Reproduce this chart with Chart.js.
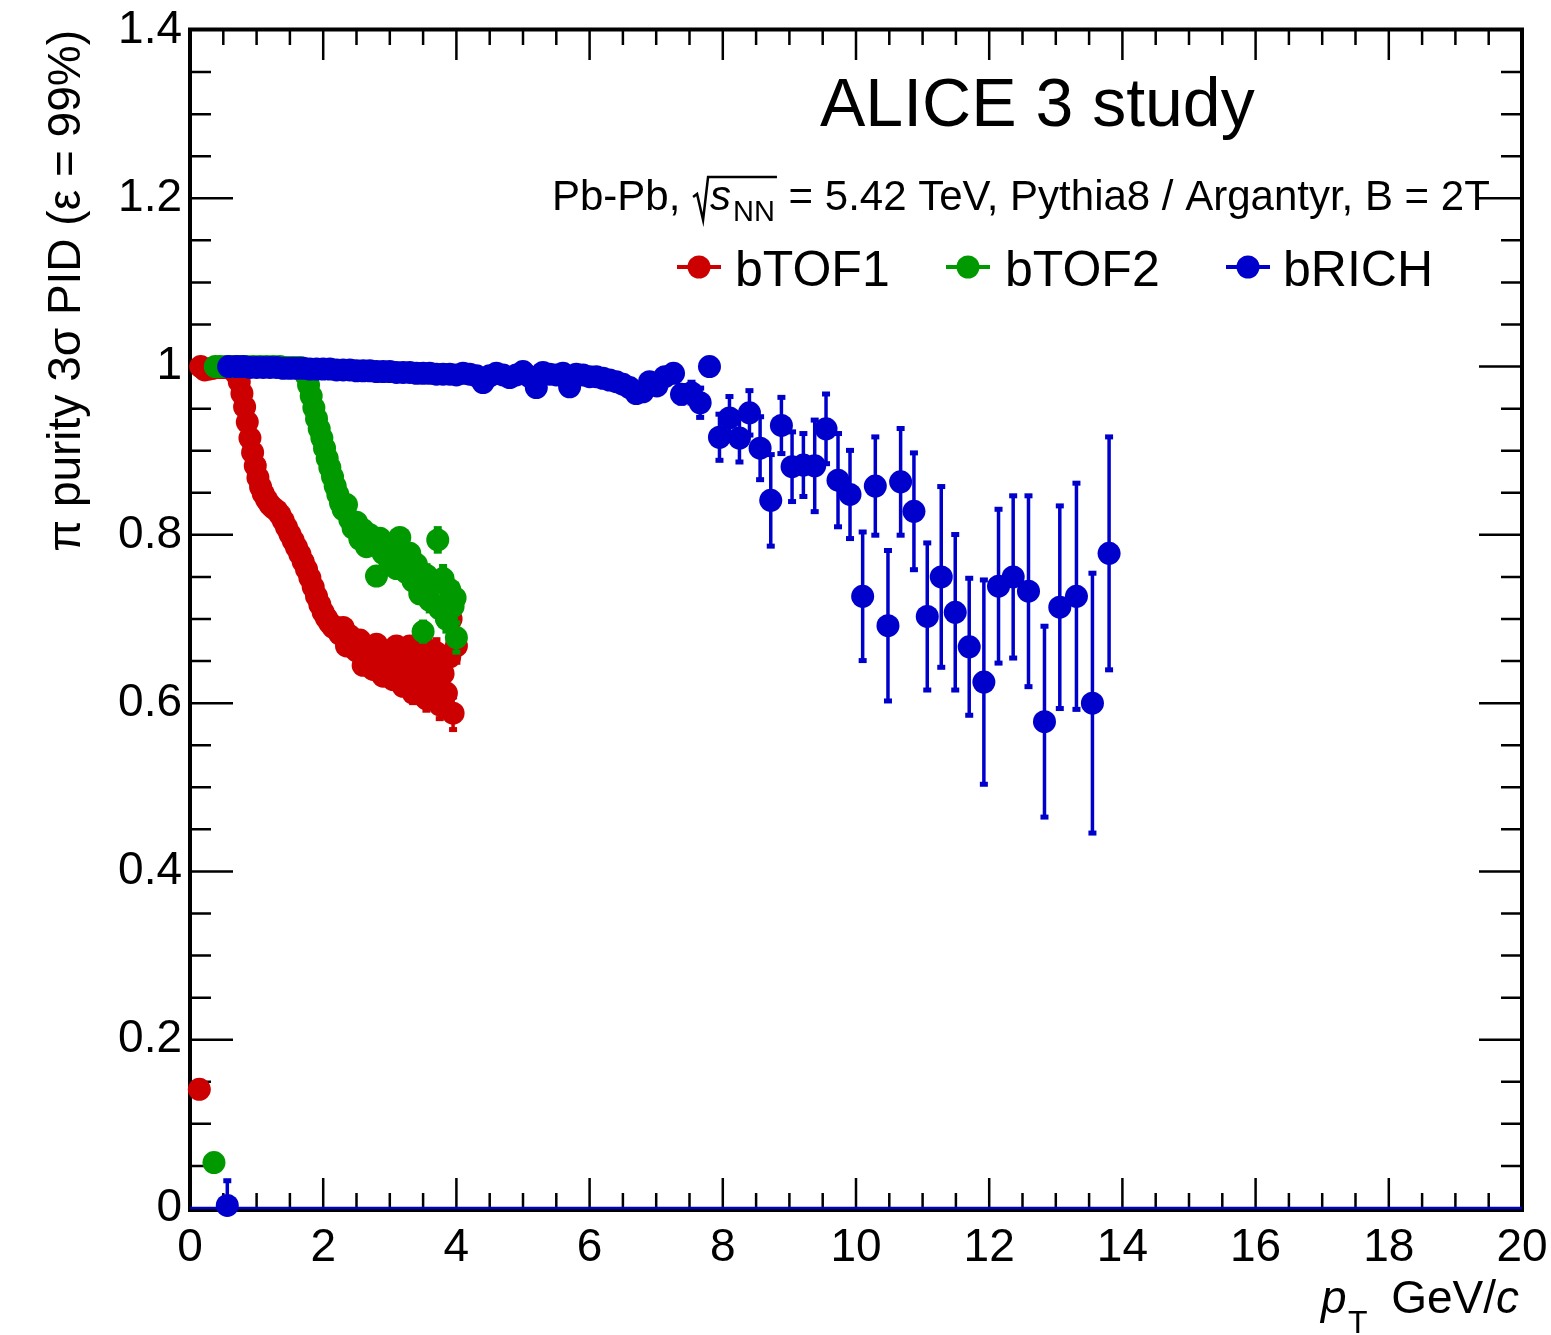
<!DOCTYPE html>
<html><head><meta charset="utf-8">
<script src="https://cdn.jsdelivr.net/npm/chart.js@4.4.1/dist/chart.umd.min.js"></script>
<style>html,body{margin:0;padding:0;background:#fff;}canvas{display:block;}</style>
</head><body>
<canvas id="c" width="1551" height="1335" style="width:1551px;height:1335px"></canvas>
<script>
// ---------------- data ----------------
const seriesNames = ['bTOF1', 'bTOF2', 'bRICH'];
const seriesColors = ['#cc0000', '#009900', '#0000cc'];

const redX = [0.14,0.16,0.22,0.28,0.34,0.40,0.45,0.50,0.55,0.60,0.65,0.70,0.74,0.78,0.82,0.86,0.90,0.94,0.98,1.02,
  1.06,1.10,1.15,1.20,1.25,1.30,1.35,1.40,1.45,1.50,1.55,1.60,1.65,1.70,1.75,1.80,1.85,1.90,1.95,2.00,
  2.05,2.10,2.15,2.20,2.25,2.30,2.35,2.40,2.45,2.50,2.55,2.60,2.65,2.70,2.75,2.80,2.85,2.90,2.95,3.00,
  3.05,3.10,3.15,3.20,3.25,3.30,3.35,3.40,3.45,3.50,3.55,3.60,3.65,3.70,3.75,3.80,3.85,3.90,3.92,3.95,4.00];
const redY = [0.141,1.000,0.996,0.997,0.998,0.999,0.999,0.999,0.999,0.998,0.996,0.991,0.982,0.968,0.952,0.934,0.915,0.898,0.882,0.868,
  0.857,0.849,0.842,0.836,0.832,0.829,0.824,0.817,0.809,0.801,0.793,0.785,0.777,0.768,0.759,0.749,0.738,0.727,0.717,0.708,
  0.701,0.695,0.690,0.690,0.682,0.690,0.668,0.680,0.672,0.662,0.675,0.645,0.668,0.655,0.640,0.670,0.650,0.632,0.662,0.645,
  0.628,0.668,0.650,0.620,0.640,0.668,0.612,0.650,0.632,0.668,0.605,0.640,0.622,0.660,0.598,0.635,0.612,0.655,0.700,0.588,0.668];
const redErr = [0,0,0,0,0,0,0,0,0,0,0,0,0,0,0,0,0,0,0,0,
  0,0,0,0,0,0,0,0,0,0,0,0,0,0,0,0,0,0,0,0,
  0,0,0,0,0,0,0,0,0,0,0,0,0,0,0,0,0,0,0,0,
  0,0,0,0,0,0,0.012,0.012,0.013,0.013,0.014,0.015,0.016,0.016,0.017,0.018,0.018,0.019,0.019,0.020,0.020];

const greenX = [0.36,0.38,0.45,0.55,0.65,0.75,0.85,0.95,1.05,1.15,1.25,1.35,1.45,1.55,1.65,1.70,1.74,1.78,1.82,1.86,
  1.90,1.94,1.98,2.02,2.06,2.10,2.14,2.18,2.22,2.26,2.30,2.35,2.40,2.45,2.50,2.55,2.60,2.65,2.70,2.75,
  2.80,2.85,2.90,2.95,3.00,3.05,3.10,3.15,3.20,3.25,3.30,3.35,3.40,3.45,3.50,3.55,3.60,3.65,3.72,3.75,
  3.80,3.85,3.90,3.95,3.98,4.00];
const greenY = [0.054,1.000,1.000,1.000,1.000,1.000,1.000,1.000,1.000,1.000,1.000,1.000,0.999,0.999,0.999,0.997,0.990,0.978,0.965,0.951,
  0.938,0.926,0.915,0.903,0.891,0.880,0.869,0.858,0.848,0.838,0.830,0.836,0.818,0.808,0.815,0.795,0.806,0.786,0.800,0.790,
  0.751,0.796,0.778,0.788,0.768,0.785,0.760,0.797,0.775,0.755,0.778,0.745,0.765,0.730,0.685,0.752,0.722,0.742,0.794,0.712,
  0.748,0.700,0.735,0.715,0.725,0.678];
const greenErr = [0,0,0,0,0,0,0,0,0,0,0,0,0,0,0,0,0,0,0,0,
  0,0,0,0,0,0,0,0,0,0,0,0,0,0,0,0,0,0,0,0,
  0,0,0,0,0,0,0,0,0,0,0,0.010,0.010,0.011,0.012,0.012,0.013,0.013,0.014,0.014,
  0.015,0.015,0.016,0.017,0.017,0.018];

const blueX = [0.56,0.58,0.70,0.80,0.90,1.00,1.10,1.20,1.30,1.40,1.50,1.60,1.70,1.80,1.90,2.00,2.10,2.20,2.30,2.40,
  2.50,2.60,2.70,2.80,2.90,3.00,3.10,3.20,3.30,3.40,3.50,3.60,3.70,3.80,3.90,4.00,4.10,4.20,4.30,4.40,
  4.50,4.60,4.70,4.80,4.90,5.00,5.10,5.20,5.30,5.40,5.50,5.60,5.70,5.80,5.90,6.00,6.10,6.20,6.30,6.40,
  6.50,6.60,6.70,6.80,6.90,7.01,7.13,7.26,7.38,7.53,7.66,7.80,7.95,8.10,8.25,8.40,8.56,8.72,8.88,9.04,
  9.21,9.38,9.55,9.73,9.91,10.10,10.29,10.48,10.67,10.87,11.07,11.28,11.49,11.70,11.92,12.14,12.36,12.59,12.83,13.06,
  13.31,13.55,13.80];
const blueY = [0.003,1.000,1.000,1.000,0.999,0.999,0.999,0.999,0.999,0.998,0.998,0.998,0.998,0.997,0.997,0.997,0.997,0.996,0.996,0.996,
  0.995,0.995,0.995,0.994,0.994,0.994,0.993,0.993,0.993,0.992,0.992,0.992,0.991,0.991,0.991,0.990,0.992,0.991,0.989,0.981,
  0.989,0.992,0.990,0.987,0.990,0.994,0.988,0.975,0.993,0.991,0.990,0.992,0.976,0.991,0.990,0.988,0.988,0.986,0.984,0.982,
  0.979,0.975,0.968,0.970,0.982,0.977,0.988,0.992,0.967,0.969,0.957,1.000,0.916,0.939,0.915,0.945,0.903,0.841,0.930,0.881,
  0.883,0.882,0.926,0.865,0.848,0.727,0.858,0.692,0.863,0.828,0.703,0.750,0.708,0.667,0.625,0.739,0.750,0.733,0.578,0.714,
  0.727,0.600,0.778];
const blueErr = [0.030,0,0,0,0,0,0,0,0,0,0,0,0,0,0,0,0,0,0,0,
  0,0,0,0,0,0,0,0,0,0,0,0,0,0,0,0,0,0,0,0,
  0,0,0,0,0,0,0,0,0,0,0,0,0,0,0,0,0,0,0,0,
  0,0,0,0,0,0,0,0,0.011,0.013,0.018,0,0.028,0.026,0.029,0.027,0.038,0.055,0.034,0.042,
  0.038,0.055,0.042,0.056,0.053,0.077,0.059,0.090,0.064,0.070,0.088,0.108,0.093,0.082,0.122,0.092,0.097,0.114,0.114,0.121,
  0.135,0.155,0.139];

const zeroLineX = [0, 20];
const zeroLineY = [0, 0];

const xMin = 0, xMax = 20, xMajorStep = 2, xMinorStep = 0.5;
const yMin = 0, yMax = 1.4, yMajorStep = 0.2, yMinorStep = 0.05;

const titleText = 'ALICE 3 study';
const yTitle = 'π purity 3σ PID (ε = 99%)';

// ---------------- rendering ----------------
const FONT = "'Liberation Sans', Arial, Helvetica, sans-serif";
const pts = (xs, ys) => xs.map((x, i) => ({x: x, y: ys[i]}));

const axesPlugin = {
  id: 'axesFrame',
  beforeDatasetsDraw(chart) {
    const {ctx, chartArea: a, scales: {x: xs, y: ys}} = chart;
    ctx.save();
    ctx.strokeStyle = '#000';
    ctx.lineWidth = 2.5;
    ctx.beginPath();
    const nx = Math.round((xMax - xMin) / xMinorStep);
    for (let i = 1; i < nx; i++) {
      const v = xMin + i * xMinorStep;
      const px = xs.getPixelForValue(v);
      const L = (i % Math.round(xMajorStep / xMinorStep) === 0) ? 30 : 15;
      ctx.moveTo(px, a.bottom); ctx.lineTo(px, a.bottom - L);
      ctx.moveTo(px, a.top); ctx.lineTo(px, a.top + L);
    }
    const ny = Math.round((yMax - yMin) / yMinorStep);
    for (let i = 1; i < ny; i++) {
      const v = yMin + i * yMinorStep;
      const py = ys.getPixelForValue(v);
      const L = (i % Math.round(yMajorStep / yMinorStep) === 0) ? 43 : 21;
      ctx.moveTo(a.left, py); ctx.lineTo(a.left + L, py);
      ctx.moveTo(a.right, py); ctx.lineTo(a.right - L, py);
    }
    ctx.stroke();
    ctx.lineWidth = 4;
    ctx.beginPath();
    ctx.moveTo(a.left, a.top - 0.5); ctx.lineTo(a.right, a.top - 0.5);
    ctx.lineTo(a.right, a.bottom + 2); ctx.lineTo(a.left, a.bottom + 2); ctx.closePath();
    ctx.stroke();
    ctx.restore();
  }
};

const errorBars = {
  id: 'errorBars',
  beforeDatasetDraw(chart, args) {
    const ds = chart.data.datasets[args.index];
    if (!ds.errors) return;
    const {ctx, chartArea: a, scales: {x: xs, y: ys}} = chart;
    ctx.save();
    ctx.beginPath(); ctx.rect(a.left, a.top, a.right - a.left, a.bottom - a.top); ctx.clip();
    ctx.strokeStyle = ds.backgroundColor; ctx.fillStyle = ds.backgroundColor; ctx.lineWidth = 3.5;
    ds.data.forEach((p, i) => {
      const e = ds.errors[i];
      if (!e) return;
      const px = xs.getPixelForValue(p.x);
      const y1 = ys.getPixelForValue(p.y + e), y2 = ys.getPixelForValue(p.y - e);
      ctx.beginPath(); ctx.moveTo(px, y1); ctx.lineTo(px, y2); ctx.stroke();
      ctx.fillRect(px - 4, y1 - 2, 8, 5);
      ctx.fillRect(px - 4, y2 - 3, 8, 5);
    });
    ctx.restore();
  }
};

const annotations = {
  id: 'annotations',
  afterDraw(chart) {
    const ctx = chart.ctx;
    ctx.save();
    ctx.fillStyle = '#000';
    ctx.textBaseline = 'alphabetic';
    // title
    ctx.font = '68px ' + FONT;
    ctx.textAlign = 'left';
    ctx.fillText(titleText, 820, 126);
    // collision line
    let x = 552; const by = 210;
    ctx.font = '42px ' + FONT;
    ctx.fillText('Pb-Pb, ', x, by); x += ctx.measureText('Pb-Pb, ').width;
    const r0 = x;
    ctx.font = 'italic 42px ' + FONT;
    const sW = ctx.measureText('s').width;
    ctx.fillText('s', r0 + 18, by);
    ctx.font = '29px ' + FONT;
    const nnW = ctx.measureText('NN').width;
    ctx.fillText('NN', r0 + 18 + sW + 2, by + 11);
    const rEnd = r0 + 18 + sW + 2 + nnW + 2;
    ctx.strokeStyle = '#000'; ctx.lineWidth = 2.5; ctx.lineJoin = 'miter';
    ctx.beginPath();
    ctx.moveTo(r0 + 1, by - 13); ctx.lineTo(r0 + 5, by - 16);
    ctx.lineTo(r0 + 11, by + 10); ctx.lineTo(r0 + 16, by - 33); ctx.lineTo(rEnd, by - 33);
    ctx.stroke();
    ctx.font = '42px ' + FONT;
    ctx.fillText(' = 5.42 TeV, Pythia8 / Argantyr, B = 2T', rEnd, by);
    // legend
    const legX = [699, 968, 1248];
    const legTextX = [735, 1005, 1283];
    const legY = 267;
    seriesNames.forEach((n, i) => {
      ctx.strokeStyle = seriesColors[i]; ctx.fillStyle = seriesColors[i];
      ctx.lineWidth = 4;
      ctx.beginPath(); ctx.moveTo(legX[i] - 22, legY); ctx.lineTo(legX[i] + 22, legY); ctx.stroke();
      ctx.beginPath(); ctx.arc(legX[i], legY, 11.5, 0, Math.PI * 2); ctx.fill();
      ctx.fillStyle = '#000';
      ctx.font = '50px ' + FONT;
      ctx.fillText(n, legTextX[i], 286);
    });
    // x title
    ctx.fillStyle = '#000';
    const xb = 1313;
    ctx.font = 'italic 46px ' + FONT; ctx.fillText('p', 1321, xb);
    ctx.font = '32px ' + FONT; ctx.fillText('T', 1348, xb + 20);
    ctx.textAlign = 'right';
    ctx.font = 'italic 46px ' + FONT;
    const cW = ctx.measureText('c').width;
    ctx.fillText('c', 1519, xb);
    ctx.font = '46px ' + FONT; ctx.fillText('GeV/', 1519 - cW, xb);
    // y title
    ctx.save();
    ctx.translate(80, 30);
    ctx.rotate(-Math.PI / 2);
    ctx.textAlign = 'right';
    ctx.font = '46px ' + FONT;
    ctx.fillText(yTitle, 0, 0);
    ctx.restore();
    ctx.restore();
  }
};

const fmt = v => { const r = Math.round(v * 10) / 10; return String(r); };

new Chart(document.getElementById('c').getContext('2d'), {
  type: 'scatter',
  data: {
    datasets: [
      {label: 'zero', type: 'line', data: pts(zeroLineX, zeroLineY), borderColor: seriesColors[2], borderWidth: 2.5,
       pointRadius: 0, order: 4, clip: false},
      {label: seriesNames[0], data: pts(redX, redY), errors: redErr, backgroundColor: seriesColors[0],
       pointRadius: 11.5, pointBorderWidth: 0, borderWidth: 0, order: 3, clip: false},
      {label: seriesNames[1], data: pts(greenX, greenY), errors: greenErr, backgroundColor: seriesColors[1],
       pointRadius: 11.5, pointBorderWidth: 0, borderWidth: 0, order: 2, clip: false},
      {label: seriesNames[2], data: pts(blueX, blueY), errors: blueErr, backgroundColor: seriesColors[2],
       pointRadius: 11.5, pointBorderWidth: 0, borderWidth: 0, order: 1, clip: false}
    ]
  },
  options: {
    responsive: false, animation: false, devicePixelRatio: 1,
    layout: {padding: {top: 30, right: 29, left: 0, bottom: 0}},
    plugins: {legend: {display: false}, tooltip: {enabled: false}},
    scales: {
      x: {type: 'linear', min: xMin, max: xMax,
          grid: {display: false, drawTicks: false, tickLength: 0}, border: {display: false},
          ticks: {stepSize: xMajorStep, color: '#000', font: {size: 46, family: FONT}, padding: 13, maxRotation: 0, autoSkip: false},
          afterFit(s) { s.height = 127; s.paddingLeft = 0; s.paddingRight = 0; }},
      y: {type: 'linear', min: yMin, max: yMax,
          grid: {display: false, drawTicks: false, tickLength: 0}, border: {display: false},
          ticks: {stepSize: yMajorStep, color: '#000', font: {size: 46, family: FONT}, padding: 8, callback: v => fmt(v)},
          afterFit(s) { s.width = 190; s.paddingTop = 0; s.paddingBottom = 0; }}
    }
  },
  plugins: [axesPlugin, errorBars, annotations]
});
</script>
</body></html>
